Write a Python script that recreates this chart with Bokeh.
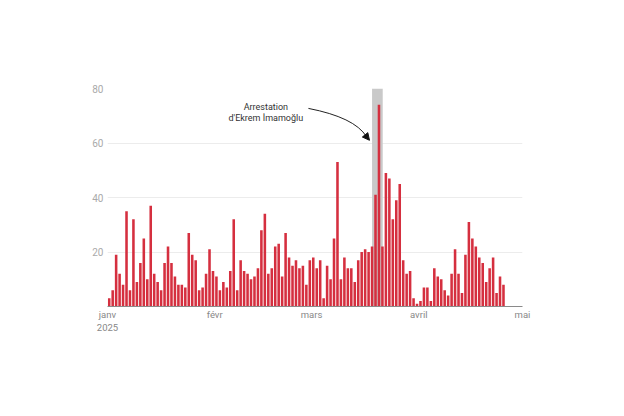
from datetime import datetime, timedelta
from bokeh.plotting import figure
from bokeh.models import (Range1d, FixedTicker, BoxAnnotation, Label, Arrow,
                          NormalHead, ColumnDataSource, DatetimeAxis)
from bokeh.embed import file_html
from bokeh.resources import INLINE

# ---- data -------------------------------------------------------------
start_date = datetime(2025, 1, 1)
counts = [
    3, 6, 19, 12, 8, 35, 6, 32, 9, 16, 25, 10, 37, 12, 9, 6, 16, 22, 16, 11,
    8, 8, 7, 27, 19, 17, 6, 7, 12, 21, 13,
    11, 6, 9, 7, 13, 32, 6, 17, 13, 12, 10, 11, 14, 28, 34, 12, 14, 22, 23,
    11, 27, 18, 15, 17, 14, 15, 8, 17,
    18, 14, 17, 3, 15, 10, 25, 53, 10, 18, 14, 14, 9, 17, 20, 21, 20, 22, 41,
    74, 22, 49, 47, 32, 39, 45, 17, 12, 13, 3, 1,
    2, 7, 7, 2, 14, 11, 10, 6, 4, 12, 21, 12, 5, 19, 31, 25, 22, 18, 16, 9,
    14, 18, 5, 11, 8,
]
tick_dates = [datetime(2025, 1, 1), datetime(2025, 2, 1), datetime(2025, 3, 1),
              datetime(2025, 4, 1), datetime(2025, 5, 1)]
tick_labels = ["janv\n2025", "févr", "mars", "avril", "mai"]
y_ticks = [20, 40, 60, 80]
annotation_lines = ["Arrestation", "d'Ekrem İmamoğlu"]

# highlighted period (arrest)
band_start = datetime(2025, 3, 18, 12)
band_end = datetime(2025, 3, 21, 14)

def ms(d):
    return (d - datetime(1970, 1, 1)).total_seconds() * 1000.0

dates = [start_date + timedelta(days=i, hours=12) for i in range(len(counts))]
src = ColumnDataSource(dict(x=dates, y=counts))

FONT = "Roboto"

p = figure(width=608, height=400, output_backend="svg", toolbar_location=None,
           x_axis_type=None,
           x_range=Range1d(ms(tick_dates[0]), ms(tick_dates[-1])),
           y_range=Range1d(0, 80),
           min_border_left=107, min_border_right=86,
           min_border_top=88, min_border_bottom=94)
p.outline_line_color = None
p.background_fill_color = "white"
p.border_fill_color = "white"

xaxis = DatetimeAxis(ticker=FixedTicker(ticks=[ms(d) for d in tick_dates]))
xaxis.major_label_overrides = {ms(d): t for d, t in zip(tick_dates, tick_labels)}
xaxis.axis_line_color = "#8a8a8a"
xaxis.axis_line_width = 1
xaxis.major_tick_line_color = None
xaxis.minor_tick_line_color = None
xaxis.major_tick_in = 0
xaxis.major_tick_out = 0
xaxis.minor_tick_in = 0
xaxis.minor_tick_out = 0
xaxis.major_label_standoff = 2
xaxis.major_label_text_font = FONT
xaxis.major_label_text_font_size = "9.5px"
xaxis.major_label_text_color = "#888888"
p.add_layout(xaxis, "below")

p.yaxis.ticker = FixedTicker(ticks=y_ticks)
p.yaxis.axis_line_color = None
p.yaxis.major_tick_line_color = None
p.yaxis.minor_tick_line_color = None
p.yaxis.major_tick_in = 0
p.yaxis.major_tick_out = 0
p.yaxis.major_label_standoff = 4
p.yaxis.major_label_text_font = FONT
p.yaxis.major_label_text_font_size = "10px"
p.yaxis.major_label_text_color = "#aaaaaa"

p.xgrid.visible = False
p.ygrid.ticker = FixedTicker(ticks=y_ticks)
p.ygrid.grid_line_color = "#ececec"
p.ygrid.grid_line_width = 1

band = BoxAnnotation(left=ms(band_start), right=ms(band_end), bottom=0, top=80,
                     fill_color="#c9c9c9", fill_alpha=1.0, line_color=None,
                     level="underlay")
p.add_layout(band)

p.vbar(x="x", top="y", width=0.74 * 86400000, bottom=0, source=src,
       fill_color="#d52f3f", line_color=None)

# annotation text
text_x = ms(datetime(2025, 2, 15, 19))
for line, yv in zip(annotation_lines, [73.1, 69.3]):
    p.add_layout(Label(x=text_x, y=yv, text=line, text_align="center",
                       text_baseline="alphabetic", text_font=FONT,
                       text_font_size="9px", text_color="#333333"))

# curved arrow
def dm(day):
    return ms(start_date) + day * 86400000

p.quadratic(x0=[dm(58.1)], y0=[72.7], cx=[dm(71.4)], cy=[69.4],
            x1=[dm(74.86)], y1=[62.4], line_color="#222222", line_width=1)
p.add_layout(Arrow(end=NormalHead(size=7, fill_color="#111111", line_color="#111111"),
                   x_start=dm(74.86), y_start=62.4, x_end=dm(75.75), y_end=61.0,
                   line_color="#222222", line_width=1))

open("out.html", "w").write(file_html(p, INLINE))
